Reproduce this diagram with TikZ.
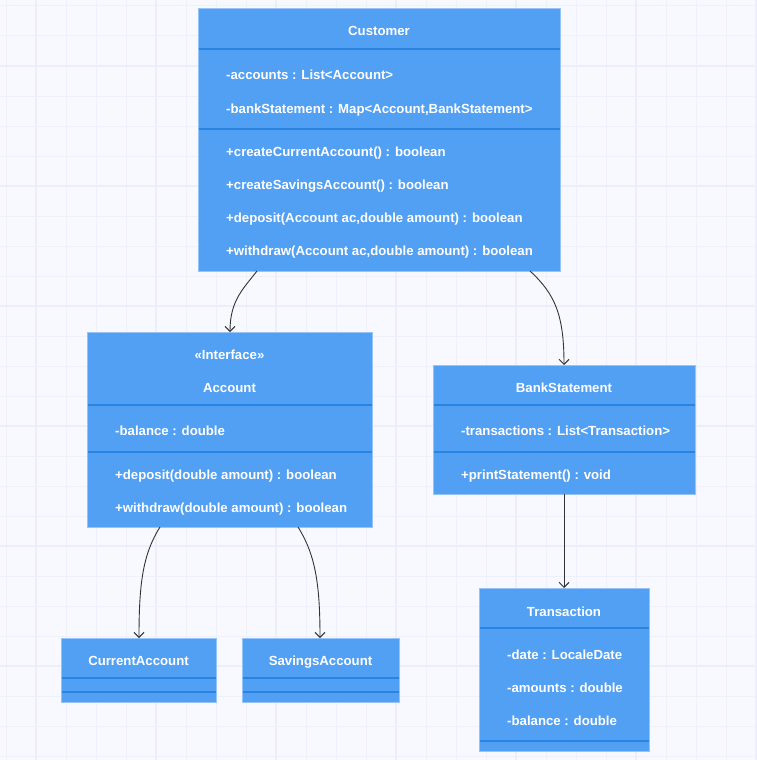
\documentclass[tikz,border=0pt]{standalone}
\usepackage{fontspec}
\setmainfont{Liberation Sans}
\usetikzlibrary{arrows.meta,calc}

\definecolor{canvas}{RGB}{248,249,254}
\definecolor{gridminor}{RGB}{238,240,251}
\definecolor{gridmajor}{RGB}{236,238,251}
\definecolor{classfill}{RGB}{82,160,243}
\definecolor{classedge}{RGB}{150,195,248}
\definecolor{classsep}{RGB}{40,132,224}
\definecolor{linkcol}{RGB}{51,51,51}

\tikzset{
  classbox/.style={draw=classedge, line width=1pt, fill=classfill,
    rectangle, inner sep=0pt, outer sep=0pt, anchor=north west},
  sepline/.style={draw=classsep, line width=1.5pt},
  member/.style={anchor=west, text=white, font=\bfseries\fontsize{13.2}{15}\selectfont,
    inner sep=0pt, text height=9.5pt, text depth=2.7pt, yshift=-1.6pt},
  title/.style={member, anchor=center},
  link/.style={draw=linkcol, line width=0.9pt,
    -{Straight Barb[length=5pt,width=10pt,line width=1pt]}},
}

\begin{document}
\begin{tikzpicture}[x=1pt,y=-1pt]
  % canvas and grid
  \fill[canvas] (0,0) rectangle (757,760);
  \useasboundingbox (0,0) rectangle (757,760);
  \foreach \g in {6,36,...,756} {
    \draw[gridminor, line width=1pt] (\g,0) -- (\g,760);
    \draw[gridminor, line width=1pt] (0,\g) -- (757,\g);
  }
  \foreach \g in {36,156,...,756}
    \draw[gridmajor, line width=2.5pt] (\g,0) -- (\g,760);
  \foreach \g in {66,186,...,726}
    \draw[gridmajor, line width=2.5pt] (0,\g) -- (757,\g);

  % Customer
  \node[classbox, minimum width=362pt, minimum height=262pt] (customer) at (198,9) {};
  \draw[sepline] (198.5,49) -- (559.5,49);
  \draw[sepline] (198.5,129) -- (559.5,129);
  \node[title] (customerT) at (379,31) {Customer};
  \node[member] (customerA1) at (226,75) {-accounts : List<Account>};
  \node[member] (customerA2) at (226,108) {-bankStatement : Map<Account,BankStatement>};
  \node[member] (customerM1) at (226,151) {+createCurrentAccount() : boolean};
  \node[member] (customerM2) at (226,184) {+createSavingsAccount() : boolean};
  \node[member] (customerM3) at (226,217) {+deposit(Account ac,double amount) : boolean};
  \node[member] (customerM4) at (226,250) {+withdraw(Account ac,double amount) : boolean};

  % Account
  \node[classbox, minimum width=285pt, minimum height=195pt] (account) at (87,332) {};
  \draw[sepline] (87.5,405) -- (371.5,405);
  \draw[sepline] (87.5,452) -- (371.5,452);
  \node[title] (accountS) at (229.5,354) {«Interface»};
  \node[title] (accountT) at (229.5,387) {Account};
  \node[member] (accountA1) at (115,430) {-balance : double};
  \node[member] (accountM1) at (115,474) {+deposit(double amount) : boolean};
  \node[member] (accountM2) at (115,507) {+withdraw(double amount) : boolean};

  % BankStatement
  \node[classbox, minimum width=262pt, minimum height=129pt] (bank) at (433,365) {};
  \draw[sepline] (433.5,405) -- (694.5,405);
  \draw[sepline] (433.5,452) -- (694.5,452);
  \node[title] (bankT) at (564,387) {BankStatement};
  \node[member] (bankA1) at (461,430) {-transactions : List<Transaction>};
  \node[member] (bankM1) at (461,474) {+printStatement() : void};

  % Transaction
  \node[classbox, minimum width=170pt, minimum height=163pt] (trans) at (479,588) {};
  \draw[sepline] (479.5,628) -- (648.5,628);
  \draw[sepline] (479.5,741) -- (648.5,741);
  \node[title] (transT) at (564,611) {Transaction};
  \node[member] (transA1) at (507,654) {-date : LocaleDate};
  \node[member] (transA2) at (507,687) {-amounts : double};
  \node[member] (transA3) at (507,720) {-balance : double};

  % CurrentAccount
  \node[classbox, minimum width=155pt, minimum height=64pt] (current) at (61,638) {};
  \draw[sepline] (61.5,678) -- (215.5,678);
  \draw[sepline] (61.5,692) -- (215.5,692);
  \node[title] (currentT) at (138.5,660) {CurrentAccount};

  % SavingsAccount
  \node[classbox, minimum width=157pt, minimum height=64pt] (savings) at (242,638) {};
  \draw[sepline] (242.5,678) -- (398.5,678);
  \draw[sepline] (242.5,692) -- (398.5,692);
  \node[title] (savingsT) at (320.5,660) {SavingsAccount};

  % associations
  \draw[link] ($(customer.south west)+(59,0)$) .. controls +(-13,17) and +(0,-32) .. ($(account.north west)+(143,0)$);
  \draw[link] ($(customer.south west)+(332,0)$) .. controls +(25,23) and +(0,-50) .. ($(bank.north west)+(131,0)$);
  \draw[link] ($(account.south west)+(73,0)$) .. controls +(-17,27) and +(0,-55) .. ($(current.north west)+(78,0)$);
  \draw[link] ($(account.south west)+(211,0)$) .. controls +(17,27) and +(0,-55) .. ($(savings.north west)+(78,0)$);
  \draw[link] (bank.south) -- ($(trans.north west)+(85,0)$);
\end{tikzpicture}
\end{document}
